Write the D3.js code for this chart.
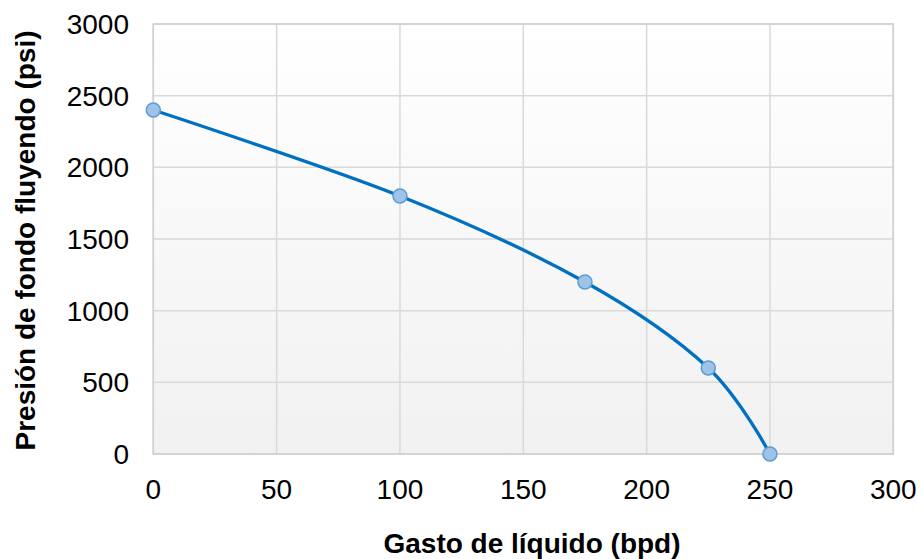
<!DOCTYPE html>
<html><head><meta charset="utf-8">
<script src="https://cdn.jsdelivr.net/npm/d3@7"></script>
<style>body{margin:0;background:#fff}svg{display:block}text{font-family:"Liberation Sans",Arial,sans-serif}</style>
</head><body><svg id="c" width="922" height="559"></svg>
<script>
const xValues = [0, 100, 175, 225, 250];
const yValues = [2400, 1800, 1200, 600, 0];
const xTicks = [0, 50, 100, 150, 200, 250, 300];
const yTicks = [0, 500, 1000, 1500, 2000, 2500, 3000];
const xTitle = "Gasto de líquido (bpd)";
const yTitle = "Presión de fondo fluyendo (psi)";

const svg = d3.select("#c");
const L = 153.3, R = 893.3, T = 24, B = 454;
const x = d3.scaleLinear().domain([0, 300]).range([L, R]);
const y = d3.scaleLinear().domain([0, 3000]).range([B, T]);

const defs = svg.append("defs");
const g = defs.append("linearGradient").attr("id", "bg").attr("x1", 0).attr("y1", 0).attr("x2", 0).attr("y2", 1);
g.append("stop").attr("offset", "0%").attr("stop-color", "#ffffff");
g.append("stop").attr("offset", "100%").attr("stop-color", "#f1f1f1");

svg.append("rect").attr("x", L).attr("y", T).attr("width", R - L).attr("height", B - T).attr("fill", "url(#bg)");

svg.append("g").selectAll("line").data(xTicks).join("line")
  .attr("x1", d => x(d)).attr("x2", d => x(d)).attr("y1", T).attr("y2", B)
  .attr("stroke", "#d9d9d9").attr("stroke-width", 1.5);
svg.append("g").selectAll("line").data(yTicks).join("line")
  .attr("y1", d => y(d)).attr("y2", d => y(d)).attr("x1", L).attr("x2", R)
  .attr("stroke", "#d9d9d9").attr("stroke-width", 1.5);
svg.append("rect").attr("x", L).attr("y", T).attr("width", R - L).attr("height", B - T)
  .attr("fill", "none").attr("stroke", "#cfcfcf").attr("stroke-width", 1.5);

svg.append("g").selectAll("text").data(xTicks).join("text")
  .attr("x", d => x(d)).attr("y", 499).attr("text-anchor", "middle")
  .attr("font-size", 28).attr("fill", "#000").text(d => d);
svg.append("g").selectAll("text").data(yTicks).join("text")
  .attr("x", 129).attr("y", d => y(d) + 10).attr("text-anchor", "end")
  .attr("font-size", 28).attr("fill", "#000").text(d => d);

svg.append("text").attr("x", 532).attr("y", 553).attr("text-anchor", "middle")
  .attr("font-size", 28).attr("font-weight", "bold").text(xTitle);
svg.append("text").attr("transform", `translate(35,240.5) rotate(-90)`)
  .attr("text-anchor", "middle").attr("font-size", 28).attr("font-weight", "bold").text(yTitle);

const pts = xValues.map((v, i) => [v, yValues[i]]);
const line = d3.line().x(d => x(d[0])).y(d => y(d[1])).curve(d3.curveCardinal.tension(0));
svg.append("path").datum(pts).attr("d", line).attr("fill", "none")
  .attr("stroke", "#0070c0").attr("stroke-width", 3.3);
svg.append("g").selectAll("circle").data(pts).join("circle")
  .attr("cx", d => x(d[0])).attr("cy", d => y(d[1])).attr("r", 7)
  .attr("fill", "#9dc3e6").attr("stroke", "#5b9bd5").attr("stroke-width", 1.5);
</script></body></html>
